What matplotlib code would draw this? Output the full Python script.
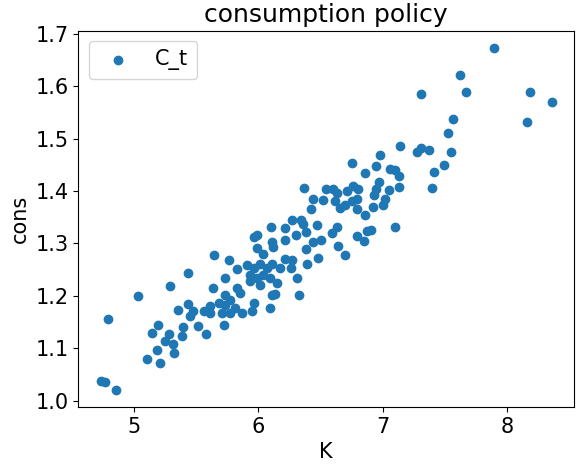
import matplotlib.pyplot as plt

K = [7.90, 7.62, 7.67, 7.31, 8.19, 8.36, 8.16, 7.57, 7.53, 7.55, 7.28, 7.31, 7.37, 7.14, 7.49, 7.41, 7.40,
     6.98, 6.75, 6.86, 6.95, 7.06, 7.10, 7.13, 7.13, 6.97, 6.95, 6.93, 7.05, 7.02, 7.00, 6.92, 6.86,
     6.80, 6.76, 6.71, 6.79, 6.75, 6.70, 6.79, 6.66, 6.62, 6.54, 6.60, 6.63, 6.37, 6.44, 6.52, 6.42,
     6.27, 6.34, 6.36, 6.21, 6.47, 6.38, 6.30, 6.21, 6.63, 6.59, 7.10, 6.91, 6.87, 6.79, 6.85,
     6.50, 6.44, 6.38, 6.64, 6.70, 6.48, 6.39, 6.31, 6.33, 6.21, 6.27, 6.26,
     6.10, 5.96, 5.99, 6.11, 6.12, 5.99, 6.04, 5.64, 5.76, 5.83, 5.91, 5.96, 6.01, 6.07, 6.11, 6.17,
     5.93, 5.99, 6.04, 6.09, 5.93, 6.01, 6.15, 5.43, 5.73, 5.29, 5.63, 5.83, 5.85, 5.73, 5.77,
     6.11, 6.13, 5.03, 5.68, 5.73, 5.61, 5.56, 5.81, 5.77, 5.96, 5.95, 6.09, 5.87, 5.35, 5.43,
     5.47, 5.45, 5.61, 5.71, 5.51, 5.72, 5.58, 5.19, 5.14, 5.28, 5.39, 5.38, 5.25, 5.31, 5.18,
     5.32, 5.10, 5.21, 4.79, 4.73, 4.76, 4.85]
C = [1.673, 1.622, 1.589, 1.584, 1.589, 1.570, 1.531, 1.537, 1.510, 1.475, 1.475, 1.481, 1.479, 1.485, 1.450, 1.436, 1.405,
     1.469, 1.454, 1.434, 1.448, 1.442, 1.440, 1.428, 1.407, 1.417, 1.403, 1.392, 1.401, 1.384, 1.374, 1.369, 1.355,
     1.403, 1.409, 1.399, 1.384, 1.380, 1.374, 1.365, 1.367, 1.380, 1.403, 1.403, 1.396, 1.405, 1.384, 1.382, 1.365,
     1.345, 1.345, 1.337, 1.330, 1.335, 1.322, 1.316, 1.306, 1.331, 1.320, 1.331, 1.326, 1.324, 1.314, 1.304,
     1.306, 1.302, 1.289, 1.295, 1.277, 1.273, 1.260, 1.235, 1.202, 1.270, 1.268, 1.254,
     1.331, 1.312, 1.316, 1.302, 1.293, 1.291, 1.279, 1.277, 1.268, 1.252, 1.258, 1.254, 1.260, 1.254, 1.260, 1.254,
     1.240, 1.235, 1.240, 1.235, 1.229, 1.221, 1.225, 1.243, 1.235, 1.219, 1.215, 1.215, 1.206, 1.202, 1.192,
     1.202, 1.204, 1.200, 1.186, 1.182, 1.180, 1.171, 1.176, 1.167, 1.186, 1.171, 1.176, 1.167, 1.174, 1.184,
     1.171, 1.161, 1.167, 1.167, 1.143, 1.145, 1.128, 1.145, 1.130, 1.128, 1.140, 1.124, 1.114, 1.109, 1.097,
     1.091, 1.080, 1.072, 1.155, 1.037, 1.035, 1.021]

plt.rcParams['font.size'] = 15
fig, ax = plt.subplots(figsize=(5.84, 4.72), dpi=100)
ax.scatter(K, C, color='#1f77b4', label='C_t')
ax.set_title('consumption policy')
ax.set_xlabel('K')
ax.set_ylabel('cons')
ax.legend(loc='upper left')
fig.subplots_adjust(left=0.134, right=0.983, top=0.935, bottom=0.138)
fig.savefig('out.png')
